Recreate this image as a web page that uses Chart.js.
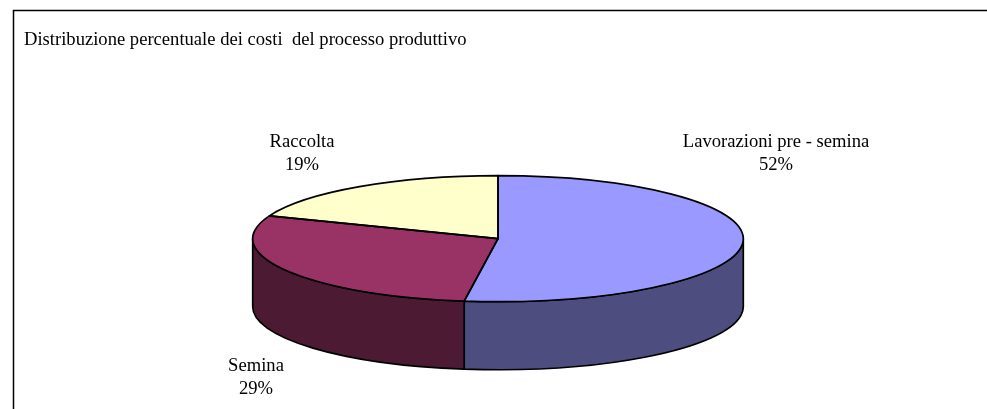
<!DOCTYPE html>
<html>
<head>
<meta charset="utf-8">
<script src="https://cdn.jsdelivr.net/npm/chart.js@4"></script>
<style>
    html, body { margin: 0; padding: 0; background: #fff; overflow: hidden; }
    canvas { display: block; }
</style>
</head>
<body>
<canvas id="pieChart" width="987" height="409"></canvas>
<script>
var categories = ['Lavorazioni pre - semina', 'Semina', 'Raccolta'];
var percents = [52.2, 28.7, 19.1];
var topColors = ['#9999FF', '#993366', '#FFFFCC'];
var wallColors = ['#4D4D80', '#4D1A33', '#80806A'];
var chartTitle = 'Distribuzione percentuale dei costi  del processo produttivo';

// where the squashed pie sits on the page
var pie = { x: 498, y: 238.7, rx: 245.3, ry: 63, depth: 68 };
// centre of the first text line of each label
var labelSpots = [{ x: 776, y: 142 }, { x: 256, y: 366 }, { x: 302, y: 142 }];
var serif = '"Liberation Serif", "Times New Roman", serif';
var lineW = 1.7;

function eachArc(chart, fn) {
    chart.getDatasetMeta(0).data.forEach(function (arc, i) {
        fn(arc.getProps(['startAngle', 'endAngle'], true), i);
    });
}

var pie3d = {
    id: 'pie3d',
    beforeDraw: function (chart) {
        // frame, only top and left are visible in the picture
        var ctx = chart.ctx;
        ctx.save();
        ctx.strokeStyle = '#000';
        ctx.lineWidth = 1.5;
        ctx.beginPath();
        ctx.moveTo(13.5, 409);
        ctx.lineTo(13.5, 10.5);
        ctx.lineTo(987, 10.5);
        ctx.stroke();
        ctx.restore();
    },
    beforeDatasetsDraw: function (chart) {
        var ctx = chart.ctx;
        ctx.save();
        ctx.strokeStyle = '#000';
        ctx.lineWidth = lineW;
        ctx.lineJoin = 'round';
        eachArc(chart, function (arc, i) {
            // only the part of the rim facing the viewer has a wall
            var a0 = Math.max(arc.startAngle, 0);
            var a1 = Math.min(arc.endAngle, Math.PI);
            if (a1 <= a0) return;
            ctx.fillStyle = wallColors[i];
            ctx.beginPath();
            ctx.ellipse(pie.x, pie.y, pie.rx, pie.ry, 0, a0, a1);
            ctx.ellipse(pie.x, pie.y + pie.depth, pie.rx, pie.ry, 0, a1, a0, true);
            ctx.closePath();
            ctx.fill();
            ctx.stroke();
        });
        ctx.restore();

        // squash the library's circle into the ellipse
        var first = chart.getDatasetMeta(0).data[0];
        var r = first.outerRadius;
        ctx.save();
        ctx.translate(pie.x, pie.y);
        ctx.scale(pie.rx / r, pie.ry / r);
        ctx.translate(-first.x, -first.y);
    },
    afterDatasetsDraw: function (chart) {
        var ctx = chart.ctx;
        ctx.restore();
        ctx.save();
        ctx.strokeStyle = '#000';
        ctx.lineWidth = lineW;
        ctx.lineJoin = 'round';
        eachArc(chart, function (arc) {
            ctx.beginPath();
            ctx.moveTo(pie.x, pie.y);
            ctx.ellipse(pie.x, pie.y, pie.rx, pie.ry, 0, arc.startAngle, arc.endAngle);
            ctx.closePath();
            ctx.stroke();
        });
        ctx.fillStyle = '#000';
        ctx.font = '18.6px ' + serif;
        ctx.textAlign = 'center';
        ctx.textBaseline = 'middle';
        categories.forEach(function (name, i) {
            ctx.fillText(name, labelSpots[i].x, labelSpots[i].y);
            ctx.fillText(Math.round(percents[i]) + '%', labelSpots[i].x, labelSpots[i].y + 23);
        });
        ctx.restore();
    }
};

new Chart(document.getElementById('pieChart'), {
    type: 'pie',
    data: {
        labels: categories,
        datasets: [{
            data: percents,
            backgroundColor: topColors,
            borderWidth: 0
        }]
    },
    options: {
        responsive: false,
        animation: false,
        layout: { padding: { left: 24 } },
        plugins: {
            legend: { display: false },
            tooltip: { enabled: false },
            title: {
                display: true,
                text: chartTitle,
                align: 'start',
                color: '#000',
                font: { family: serif, size: 18.6, weight: 'normal' },
                padding: { top: 29, bottom: 10 }
            }
        }
    },
    plugins: [pie3d]
});
</script>
</body>
</html>
